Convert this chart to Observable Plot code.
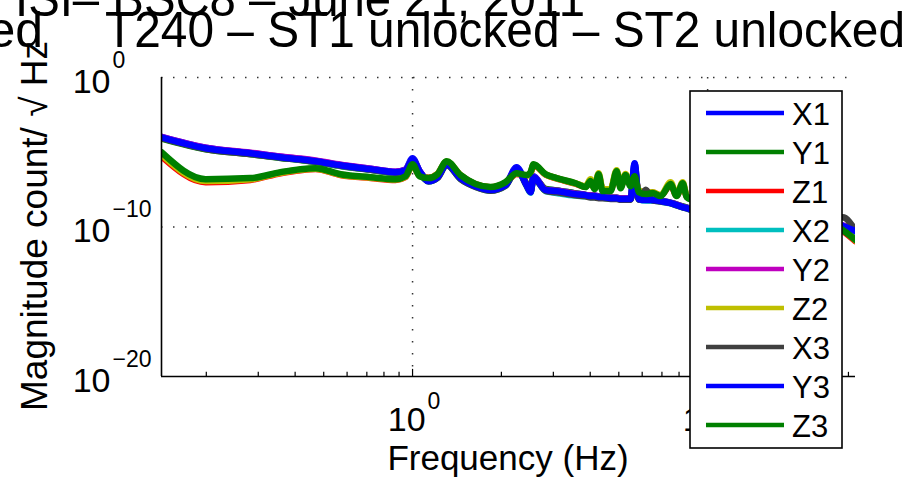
<!DOCTYPE html>
<html><head><meta charset="utf-8">
<script src="https://cdn.jsdelivr.net/npm/d3@7"></script>
<script src="https://cdn.jsdelivr.net/npm/@observablehq/plot@0.6"></script>
<style>
html,body{margin:0;padding:0;background:#fff;}
#chart{position:relative;width:918px;height:477px;overflow:hidden;}
</style>
</head><body><div id="chart"></div>
<script>
// Frequencies (Hz)
const freq = [0.141,0.199,0.282,0.357,0.417,0.469,0.570,0.721,0.876,0.947,1.000,1.056,1.133,1.215,1.304,1.455,1.635,1.838,2.066,2.252,2.434,2.512,2.570,2.825,3.077,3.568,3.858,4.010,4.140,4.270,4.406,4.690,4.915,5.070,5.270,5.480,5.657,5.840,6.170,6.510,6.930,7.490,7.850,8.230,8.490,8.900,11.07,15.12,20.66,26.10,28.69,31.70];

// Magnitudes as log10(count/sqrt(Hz))
const X1_log10 = [-3.97,-4.70,-5.05,-5.30,-5.45,-5.58,-5.85,-6.10,-6.30,-6.15,-5.40,-6.25,-6.90,-6.65,-5.75,-6.70,-7.25,-7.50,-7.15,-6.00,-7.15,-7.60,-6.60,-7.50,-7.55,-7.75,-7.85,-7.90,-7.90,-7.95,-7.97,-8.03,-8.05,-8.10,-8.10,-8.10,-5.80,-8.10,-8.15,-8.17,-8.25,-8.37,-8.50,-8.63,-8.70,-8.83,-9.03,-9.23,-9.43,-9.63,-9.90,-10.20];
const Y1_log10 = [-4.08,-4.80,-5.13,-5.38,-5.52,-5.65,-5.92,-6.18,-6.38,-6.25,-5.55,-6.30,-6.85,-6.60,-5.70,-6.75,-7.25,-7.50,-7.20,-6.15,-7.10,-7.50,-6.70,-7.45,-7.55,-7.75,-7.85,-7.90,-7.92,-7.98,-8.00,-8.05,-8.05,-8.10,-8.12,-8.12,-6.00,-8.12,-8.18,-8.20,-8.25,-8.38,-8.50,-8.62,-8.70,-8.85,-9.05,-9.25,-9.45,-9.65,-9.95,-10.30];
const Z1_log10 = [-5.27,-7.00,-6.85,-6.40,-6.20,-6.12,-6.52,-6.72,-6.85,-6.65,-5.85,-6.55,-6.70,-6.45,-5.65,-6.55,-7.15,-7.35,-7.05,-6.45,-6.55,-6.40,-5.85,-6.50,-6.75,-7.10,-7.30,-7.00,-7.40,-6.60,-7.50,-7.50,-6.40,-7.30,-6.60,-7.15,-6.70,-7.55,-7.75,-7.70,-7.90,-7.20,-7.90,-7.15,-7.95,-8.15,-8.55,-8.95,-9.35,-9.75,-10.25,-10.95];
const X2_log10 = [-4.02,-4.75,-5.10,-5.36,-5.50,-5.63,-5.90,-6.16,-6.36,-6.22,-5.50,-6.30,-6.95,-6.70,-5.85,-6.78,-7.30,-7.57,-7.23,-6.10,-7.25,-7.70,-6.72,-7.60,-7.72,-7.90,-7.95,-8.00,-8.00,-8.05,-8.05,-8.10,-8.10,-8.15,-8.15,-8.15,-6.20,-8.15,-8.22,-8.22,-8.30,-8.42,-8.55,-8.68,-8.75,-8.90,-9.10,-9.30,-9.50,-9.70,-9.95,-10.30];
const Y2_log10 = [-3.98,-4.70,-5.03,-5.28,-5.42,-5.55,-5.83,-6.10,-6.30,-6.17,-5.50,-6.25,-6.90,-6.65,-5.82,-6.72,-7.25,-7.50,-7.18,-6.10,-7.18,-7.60,-6.65,-7.50,-7.58,-7.78,-7.85,-7.90,-7.90,-7.98,-7.98,-8.05,-8.05,-8.10,-8.10,-8.12,-6.10,-8.12,-8.18,-8.18,-8.25,-8.38,-8.50,-8.65,-8.72,-8.85,-9.05,-9.25,-9.45,-9.65,-9.90,-10.25];
const Z2_log10 = [-5.15,-6.93,-6.80,-6.37,-6.17,-6.10,-6.50,-6.70,-6.83,-6.63,-5.83,-6.57,-6.72,-6.46,-5.62,-6.54,-7.14,-7.34,-7.02,-6.42,-6.54,-6.36,-5.83,-6.48,-6.74,-7.08,-7.28,-6.80,-7.40,-6.40,-7.48,-7.48,-6.20,-7.28,-6.45,-7.14,-6.62,-7.54,-7.70,-7.68,-7.88,-7.00,-7.88,-7.00,-7.94,-8.14,-8.54,-8.94,-9.34,-9.74,-10.15,-10.90];
const X3_log10 = [-4.05,-4.78,-5.12,-5.37,-5.50,-5.63,-5.90,-6.17,-6.37,-6.23,-5.52,-6.30,-6.95,-6.72,-5.85,-6.80,-7.32,-7.58,-7.25,-6.12,-7.22,-7.65,-6.70,-7.58,-7.68,-7.88,-7.95,-8.02,-8.03,-8.08,-8.08,-8.12,-8.12,-8.18,-8.18,-8.18,-6.50,-8.18,-7.50,-8.22,-8.30,-8.40,-8.55,-8.68,-8.75,-8.90,-9.05,-9.20,-9.35,-9.45,-9.35,-10.25];
const Y3_log10 = [-4.00,-4.73,-5.07,-5.33,-5.47,-5.60,-5.87,-6.13,-6.33,-6.20,-5.47,-6.27,-6.93,-6.67,-5.80,-6.73,-7.27,-7.53,-7.20,-6.07,-7.20,-7.67,-6.67,-7.53,-7.60,-7.80,-7.87,-7.93,-7.93,-8.00,-8.00,-8.07,-8.07,-8.13,-8.13,-8.13,-5.73,-8.13,-8.20,-8.20,-8.27,-8.40,-8.53,-8.67,-8.73,-8.87,-9.07,-9.27,-9.47,-9.67,-9.93,-10.27];
const Z3_log10 = [-5.00,-6.80,-6.73,-6.33,-6.13,-6.07,-6.47,-6.67,-6.80,-6.60,-5.80,-6.60,-6.73,-6.47,-5.60,-6.53,-7.13,-7.33,-7.00,-6.40,-6.53,-6.33,-5.80,-6.47,-6.73,-7.07,-7.33,-6.93,-7.47,-6.47,-7.60,-7.60,-6.27,-7.40,-6.53,-7.27,-6.60,-7.67,-7.80,-7.73,-7.93,-7.13,-7.93,-7.07,-8.00,-8.20,-8.53,-8.93,-9.33,-9.73,-10.20,-10.87];

const seriesNames = ["X1","Y1","Z1","X2","Y2","Z2","X3","Y3","Z3"];
const seriesColors = ["#0000ff","#008000","#ff0000","#00bfbf","#bf00bf","#bfbf00","#404040","#0000ff","#008000"];
const seriesLogs = [X1_log10,Y1_log10,Z1_log10,X2_log10,Y2_log10,Z2_log10,X3_log10,Y3_log10,Z3_log10];

const xTicks = [1, 10];
const xTickExp = ["0", "1"];
const xMinorTicks = [0.2,0.3,0.4,0.5,0.6,0.7,0.8,0.9,2,3,4,5,6,7,8,9,20,30];
const yTicks = [1, 1e-10, 1e-20];
const yTickExp = ["0", "\u221210", "\u221220"];
const yGrid = [1, 1e-10];

const titleLine1Prefix = "LHO \u2013 ";
const titleLine1 = "ISI\u2013 BSC8 \u2013 June 21, 2011";
const titleLine2Prefix = "HEPI locked";
const titleLine2 = "T240 \u2013 ST1 unlocked \u2013 ST2 unlocked";
const xLabel = "Frequency (Hz)";
const yLabel = "Magnitude count/ \u221A Hz";

const FONT = "'Liberation Sans', Arial, Helvetica, sans-serif";
const xDomain = [0.141, 31.7];
const yDomain = [1e-20, 1];

const marks = [
  Plot.ruleX(xTicks, {stroke: "#333", strokeWidth: 1.5, strokeDasharray: "1.5,10.5"}),
  Plot.ruleY(yGrid, {stroke: "#333", strokeWidth: 1.5, strokeDasharray: "1.5,10.5"}),
  Plot.ruleX(xMinorTicks, {y1: 1e-20, y2: 1.9e-20, stroke: "#000", strokeWidth: 1.2}),
  Plot.ruleX(xTicks, {y1: 1e-20, y2: 3e-20, stroke: "#000", strokeWidth: 1.2}),
];
seriesNames.forEach((name, i) => {
  const rows = freq.map((f, j) => ({f, m: Math.pow(10, seriesLogs[i][j]), name}));
  marks.push(Plot.line(rows, {x: "f", y: "m", stroke: seriesColors[i], strokeWidth: 6.5,
    curve: "monotone-x", strokeLinejoin: "round", strokeLinecap: "round", clip: true}));
});
marks.push(
  Plot.ruleY([yDomain[0]], {stroke: "#000", strokeWidth: 1.6}),
  Plot.ruleX([xDomain[0]], {stroke: "#000", strokeWidth: 1.6}),
  Plot.text(xTicks, {x: d => d, frameAnchor: "bottom", text: () => "10", textAnchor: "end",
    lineAnchor: "bottom", dx: 13, dy: 54, fontSize: 34, fill: "#000"}),
  Plot.text(xTicks, {x: d => d, frameAnchor: "bottom", text: (d, i) => xTickExp[i], textAnchor: "start",
    lineAnchor: "bottom", dx: 15, dy: 32, fontSize: 23, fill: "#000"}),
  Plot.text(yTicks, {y: d => d, frameAnchor: "left", text: () => "10", textAnchor: "end",
    lineAnchor: "bottom", dx: -51, dy: 15, fontSize: 34, fill: "#000"}),
  Plot.text(yTicks, {y: d => d, frameAnchor: "left", text: (d, i) => yTickExp[i], textAnchor: "start",
    lineAnchor: "bottom", dx: -49, dy: -10, fontSize: 23, fill: "#000"})
);

const chart = Plot.plot({
  width: 918, height: 477,
  marginLeft: 161, marginRight: 63, marginTop: 77, marginBottom: 101,
  style: {fontFamily: FONT, background: "#fff", overflow: "visible"},
  x: {type: "log", domain: xDomain, axis: null},
  y: {type: "log", domain: yDomain, axis: null},
  marks
});
document.getElementById("chart").appendChild(chart);

const svg = d3.select(chart);
const tg = svg.append("g").attr("font-family", FONT).attr("fill", "#000");
// Title
tg.append("text").attr("x", 10).attr("y", 16).attr("font-size", 50).attr("text-anchor", "end").text(titleLine1Prefix);
tg.append("text").attr("x", 15).attr("y", 16).attr("font-size", 50).attr("text-anchor", "start")
  .attr("textLength", 570).attr("lengthAdjust", "spacingAndGlyphs").text(titleLine1);
tg.append("text").attr("x", 43).attr("y", 47).attr("font-size", 50).attr("text-anchor", "end").text(titleLine2Prefix);
tg.append("text").attr("x", 105).attr("y", 47).attr("font-size", 50).attr("text-anchor", "start")
  .attr("textLength", 800).attr("lengthAdjust", "spacingAndGlyphs").text(titleLine2);
// Axis labels
tg.append("text").attr("x", 508).attr("y", 470).attr("font-size", 35).attr("text-anchor", "middle").text(xLabel);
tg.append("text").attr("transform", "translate(47,226) rotate(-90)").attr("font-size", 37)
  .attr("text-anchor", "middle").text(yLabel);

// Legend
const lg = svg.append("g").attr("font-family", FONT);
lg.append("rect").attr("x", 690).attr("y", 91).attr("width", 152).attr("height", 357)
  .attr("fill", "#fff").attr("stroke", "#000").attr("stroke-width", 1.6);
seriesNames.forEach((name, i) => {
  const y = 113 + i * 39;
  lg.append("line").attr("x1", 706).attr("x2", 784).attr("y1", y).attr("y2", y)
    .attr("stroke", seriesColors[i]).attr("stroke-width", 4.5);
  lg.append("text").attr("x", 792).attr("y", y + 12).attr("font-size", 31).attr("text-anchor", "start")
    .attr("fill", "#000").text(name);
});
</script>
</body></html>
